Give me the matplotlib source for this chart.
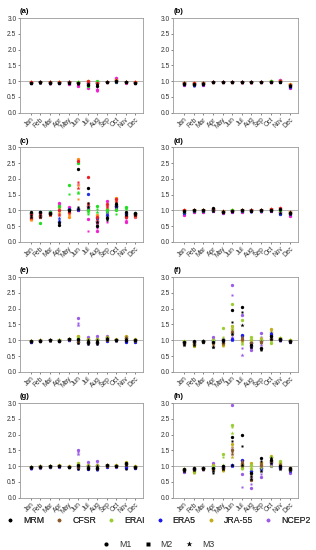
import numpy as np
import matplotlib.pyplot as plt
from matplotlib.lines import Line2D

plt.rcParams['font.family'] = ['Liberation Sans', 'DejaVu Sans']

months = ["Jan", "Feb", "Mar", "Apr", "May", "Jun", "Jul", "Aug", "Sep", "Oct", "Nov", "Dec"]
datasets = ["MRM", "CFSR", "ERAI", "ERA5", "JRA-55", "NCEP2"]
methods = ["M1", "M2", "M3"]

# colours used in panels (a)-(d) and (e)-(h)
colors_top = ["black", "#e8222a", "#22dd22", "#2233dd", "#ff8c1a", "#ee22cc"]
colors_bot = ["black", "#8b5a2b", "#9acd32", "#1a1aee", "#c2ad1c", "#9b5de5"]

# rows: MRM M1/M2/M3, CFSR M1/M2/M3, ERAI ..., ERA5 ..., JRA-55 ..., NCEP2 ...
panel_a = [
    [.94, .96, .95, .94, .95, .93, .88, .86, .97, 1.00, .96, .94],
    [.93, .95, .94, .93, .94, .92, .90, .88, .96, .99, .97, .93],
    [.95, .97, .96, .95, .96, .94, .92, .90, .98, 1.01, .97, .95],
    [.96, .98, .96, .96, .97, .95, 1.00, .95, .98, 1.02, .97, .96],
    [.95, .97, .95, .95, .96, .94, .98, .93, .97, 1.01, .96, .95],
    [.96, .98, .96, .97, .97, .95, .99, .94, .98, 1.03, .97, .96],
    [.95, .97, .95, .96, .96, .96, .86, 1.00, .98, 1.00, .98, .95],
    [.95, .96, .95, .95, .95, .95, .85, .98, .97, .99, .97, .95],
    [.96, .97, .96, .96, .96, .96, .87, .99, .98, 1.00, .98, .96],
    [.94, .96, .95, .95, .96, .95, .93, .94, .97, .97, .96, .94],
    [.94, .95, .94, .94, .95, .94, .92, .93, .96, .97, .96, .94],
    [.95, .96, .95, .95, .96, .95, .94, .95, .97, .98, .97, .95],
    [.96, .98, .97, .98, .98, .96, 1.02, .97, .99, 1.04, .97, .96],
    [.95, .97, .96, .97, .97, .95, 1.01, .96, .98, 1.03, .96, .95],
    [.96, .98, .97, .98, .98, .96, 1.02, .97, .99, 1.04, .97, .96],
    [.94, .99, .93, .95, .91, .86, .80, .72, .96, 1.10, .95, .95],
    [.93, .98, .92, .94, .90, .85, .82, .70, .96, 1.08, .95, .94],
    [.94, .99, .93, .95, .92, .87, .84, .74, .97, 1.09, .96, .95],
]

panel_b = [
    [.92, .90, .92, .98, .98, .97, .96, .97, .97, .99, .99, .86],
    [.91, .89, .91, .97, .97, .97, .96, .96, .96, .98, .98, .85],
    [.93, .91, .93, .98, .98, .98, .97, .97, .97, .99, .99, .87],
    [.94, .93, .93, .98, .98, .97, .96, .97, .97, .99, 1.01, .88],
    [.93, .92, .92, .97, .97, .96, .96, .96, .96, .98, 1.00, .87],
    [.94, .93, .93, .98, .98, .97, .97, .97, .97, .99, 1.01, .88],
    [.93, .92, .94, .98, .98, .97, .96, .97, .97, 1.00, 1.00, .89],
    [.92, .91, .93, .97, .97, .97, .96, .96, .96, .99, .99, .88],
    [.93, .92, .94, .98, .98, .98, .97, .97, .97, 1.00, 1.00, .89],
    [.90, .87, .90, .97, .98, .97, .96, .97, .97, .99, .98, .83],
    [.89, .86, .89, .97, .97, .96, .96, .96, .96, .98, .98, .82],
    [.90, .88, .90, .98, .98, .97, .97, .97, .97, .99, .99, .84],
    [.94, .94, .95, .99, .99, .98, .97, .98, .98, 1.00, 1.00, .92],
    [.93, .93, .94, .98, .98, .97, .96, .97, .97, .99, .99, .91],
    [.94, .94, .95, .99, .99, .98, .97, .98, .98, 1.00, 1.00, .92],
    [.89, .88, .88, .97, .97, .96, .96, .96, .96, .98, 1.03, .80],
    [.88, .87, .87, .97, .97, .96, .95, .95, .96, .98, 1.02, .79],
    [.89, .88, .88, .98, .98, .97, .96, .96, .97, .99, 1.03, .81],
]

panel_c = [
    [.95, .95, .93, .55, 1.00, 2.30, 1.72, .50, .75, 1.20, .95, .92],
    [.85, .85, .90, .60, .98, 1.10, 1.25, .55, .70, 1.25, .90, .88],
    [.78, .78, .88, .65, 1.02, 1.05, 1.10, .62, .80, 1.15, .85, .85],
    [.90, .92, .92, 1.00, .95, 2.58, 2.05, .80, 1.20, 1.35, .80, .90],
    [.80, .88, .88, .90, .92, 1.90, 1.25, .70, 1.10, 1.30, .82, .85],
    [.75, .82, .86, .85, .98, 1.70, 1.20, .65, 1.15, 1.28, .78, .82],
    [.92, .60, .95, 1.15, 1.80, 2.52, 1.00, 1.15, 1.00, 1.00, 1.10, .93],
    [.88, .90, .93, 1.05, 1.52, 1.60, .90, 1.05, .95, .90, 1.05, .90],
    [.85, .95, .90, 1.00, 1.00, 1.55, .95, .95, 1.05, 1.05, 1.08, .88],
    [.93, .94, .95, .65, 1.05, 1.05, 1.52, .75, .85, 1.15, .92, .92],
    [.90, .90, .96, .70, 1.00, 1.00, 1.15, .72, .90, 1.18, .88, .90],
    [.88, .88, .94, .75, 1.03, 1.02, 1.05, .68, .95, 1.12, .85, .88],
    [.72, .85, .90, 1.10, .80, 2.62, 1.15, .85, 1.05, 1.40, .82, .86],
    [.75, .80, .87, .95, .85, 1.35, 1.05, .78, 1.00, 1.38, .85, .83],
    [.70, .78, .85, .92, .88, 1.80, 1.00, .75, .98, 1.32, .80, .80],
    [.75, .80, .88, 1.25, 1.10, 1.00, .72, .35, 1.30, 1.10, .65, .80],
    [.80, .85, .90, 1.20, 1.05, 1.85, .35, .45, .65, 1.08, .70, .82],
    [.82, .83, .92, 1.18, 1.08, 1.02, 1.10, .60, .90, 1.12, .68, .85],
]

panel_d = [
    [.98, 1.00, 1.00, 1.08, .95, .98, 1.00, .98, 1.00, 1.02, 1.05, .93],
    [.95, .98, .98, 1.03, .96, .97, .98, .97, .99, 1.00, 1.00, .90],
    [.97, 1.01, 1.01, .99, .97, .99, 1.01, 1.00, 1.01, .98, .92, .95],
    [1.00, 1.02, 1.02, 1.05, .96, .99, 1.01, 1.00, 1.02, 1.04, 1.08, .92],
    [.99, 1.01, 1.01, 1.03, .95, .98, 1.00, .99, 1.01, 1.03, 1.06, .91],
    [1.00, 1.02, 1.02, 1.04, .96, .99, 1.01, 1.00, 1.02, 1.04, 1.07, .92],
    [.97, 1.00, 1.00, 1.02, .95, 1.00, 1.00, 1.00, 1.00, 1.01, 1.00, .93],
    [.96, .99, .99, 1.01, .94, .99, .99, .99, .99, 1.00, .99, .92],
    [.97, 1.00, 1.00, 1.02, .95, 1.00, 1.00, 1.00, 1.00, 1.01, 1.00, .93],
    [.93, .98, .98, 1.00, .94, .97, .98, .97, .99, 1.00, .90, .90],
    [.92, .97, .97, .99, .93, .96, .97, .96, .98, .99, .88, .88],
    [.93, .98, .98, 1.00, .94, .97, .98, .97, .99, 1.00, .90, .90],
    [1.02, 1.03, 1.03, 1.06, .98, 1.00, 1.02, .98, 1.03, 1.05, 1.03, .95],
    [1.01, 1.02, 1.02, 1.05, .97, .99, 1.01, .97, 1.02, 1.04, 1.02, .94],
    [1.02, 1.03, 1.03, 1.06, .98, 1.00, 1.02, .98, 1.03, 1.05, 1.03, .95],
    [.87, .96, .96, .99, .92, .95, .96, 1.02, .97, .98, .95, .84],
    [.85, .95, .95, .98, .91, .94, .95, 1.01, .96, .97, .94, .82],
    [.88, .96, .96, .99, .92, .95, .96, 1.02, .97, .98, .95, .85],
]

panel_e = [
    [.97, .99, 1.01, .99, 1.05, 1.05, .95, .95, 1.05, 1.01, 1.00, 1.02],
    [.95, .98, 1.00, .98, 1.03, .90, .88, .88, 1.00, 1.00, .97, .97],
    [.99, 1.00, 1.02, 1.00, 1.04, 1.00, 1.00, 1.02, 1.08, 1.02, 1.05, 1.00],
    [.98, .99, 1.00, .99, 1.03, .95, .92, .92, 1.02, 1.00, 1.08, 1.00],
    [.97, .98, .99, .98, 1.02, .92, .90, .90, 1.00, .99, 1.05, .98],
    [.98, .99, 1.00, .99, 1.03, 1.02, .95, .97, 1.05, 1.01, 1.10, 1.01],
    [.98, .99, 1.01, 1.00, 1.04, 1.08, 1.00, 1.00, 1.06, 1.01, 1.06, 1.01],
    [.97, .98, 1.00, .99, 1.03, .98, .95, .95, 1.03, 1.00, 1.03, .99],
    [.98, .99, 1.01, 1.00, 1.04, 1.10, 1.02, 1.03, 1.08, 1.02, 1.08, 1.02],
    [.96, .98, 1.00, .99, 1.02, .93, .90, .90, .99, 1.00, .96, .96],
    [.95, .97, .99, .98, 1.01, .90, .88, .88, .98, .99, .95, .95],
    [.96, .98, 1.00, .99, 1.02, .95, .92, .92, 1.00, 1.00, .97, .97],
    [.99, 1.00, 1.02, 1.00, 1.05, 1.15, 1.05, 1.05, 1.10, 1.03, 1.13, 1.03],
    [.98, .99, 1.01, .99, 1.04, 1.12, 1.03, 1.02, 1.08, 1.02, 1.12, 1.02],
    [.99, 1.00, 1.02, 1.00, 1.05, 1.10, 1.00, 1.00, 1.06, 1.02, 1.10, 1.01],
    [.96, .98, 1.00, .98, 1.02, 1.70, 1.10, 1.15, 1.12, 1.00, .98, .97],
    [.95, .97, .99, .98, 1.01, 1.55, 1.02, 1.08, 1.10, .99, .97, .96],
    [.96, .98, 1.00, .99, 1.02, 1.48, .98, 1.00, 1.05, 1.00, .98, .98],
]

panel_f = [
    [.95, .97, .98, .95, 1.00, 1.97, 2.07, .85, .75, 1.15, 1.05, .98],
    [.88, .90, .95, .80, .95, 1.58, 1.90, .80, .70, 1.10, 1.02, .95],
    [.85, .85, .93, .78, 1.02, 1.20, 1.48, .78, .72, 1.05, 1.00, .96],
    [.92, .92, .96, .90, .90, 1.25, 1.05, .90, .95, 1.05, 1.03, .97],
    [.90, .88, .95, .85, .88, 1.20, 1.00, .88, .90, 1.08, 1.01, .96],
    [.93, .95, .97, .92, .92, 1.30, 1.10, .92, .98, 1.12, 1.04, .98],
    [.98, .95, .98, 1.00, 1.38, 2.15, 1.65, 1.10, 1.00, .90, 1.08, 1.00],
    [.95, .90, .96, .95, 1.10, 1.45, .90, 1.05, .95, .95, 1.05, .99],
    [.92, .85, .94, .92, 1.05, 1.35, .88, 1.00, 1.05, 1.00, 1.06, 1.00],
    [.94, .96, .97, .97, .98, 1.05, 1.17, .90, .97, 1.20, 1.02, .97],
    [.93, .95, .96, .96, .96, 1.00, 1.10, .88, .95, 1.18, 1.01, .96],
    [.94, .96, .97, .97, .98, 1.02, 1.15, .90, .97, 1.22, 1.02, .97],
    [.96, .82, .99, 1.02, .85, 1.45, 1.00, 1.00, 1.05, 1.35, 1.07, 1.01],
    [.94, .84, .97, .98, .82, 1.40, .95, .95, 1.02, 1.30, 1.05, 1.00],
    [.97, .86, .99, 1.00, .87, 1.35, .98, .97, 1.08, 1.25, 1.06, 1.01],
    [.90, .93, .95, 1.10, 1.03, 2.75, 1.80, .70, 1.22, 1.15, 1.00, .94],
    [.88, .92, .94, 1.05, 1.00, 2.42, .75, .75, 1.10, 1.10, .99, .93],
    [.91, .94, .96, 1.00, .98, 1.10, .52, .80, .85, 1.05, 1.00, .95],
]

panel_g = [
    [.97, .99, 1.00, 1.01, .98, 1.05, .95, .95, 1.03, 1.01, 1.10, .97],
    [.95, .97, .99, 1.00, .97, .92, .92, .90, 1.00, 1.00, .92, .95],
    [.98, 1.00, 1.01, 1.02, .99, 1.00, 1.00, 1.00, 1.05, 1.02, 1.05, .99],
    [.98, .99, 1.00, 1.01, .98, .98, .95, .93, 1.01, 1.01, 1.06, .97],
    [.97, .98, .99, 1.00, .97, .95, .93, .92, 1.00, 1.00, 1.03, .96],
    [.98, .99, 1.00, 1.01, .98, 1.02, .97, .96, 1.02, 1.01, 1.08, .98],
    [.98, .99, 1.00, 1.02, .98, 1.08, 1.00, 1.00, 1.04, 1.02, 1.08, .98],
    [.97, .98, .99, 1.01, .97, 1.00, .97, .97, 1.02, 1.01, 1.05, .97],
    [.98, .99, 1.00, 1.02, .98, 1.10, 1.02, 1.02, 1.04, 1.02, 1.10, .99],
    [.95, .97, .98, 1.00, .97, .93, .92, .90, .99, 1.00, .95, .95],
    [.94, .96, .98, .99, .96, .91, .90, .88, .98, .99, .93, .94],
    [.95, .97, .99, 1.00, .97, .95, .93, .92, 1.00, 1.00, .96, .96],
    [.99, 1.00, 1.01, 1.03, 1.00, 1.10, 1.03, 1.03, 1.05, 1.04, 1.12, 1.00],
    [.98, .99, 1.00, 1.02, .99, 1.07, 1.01, 1.01, 1.04, 1.03, 1.10, .99],
    [.99, 1.00, 1.01, 1.03, 1.00, 1.05, 1.00, 1.00, 1.03, 1.03, 1.08, 1.00],
    [.93, .95, .97, .99, .96, 1.52, 1.12, 1.15, 1.00, .99, .97, .93],
    [.92, .95, .97, .99, .96, 1.45, 1.05, 1.08, .99, .99, .96, .93],
    [.94, .96, .98, 1.00, .97, 1.38, .98, 1.00, 1.00, 1.00, .97, .94],
]

panel_h = [
    [.90, .95, .95, .95, 1.00, 1.93, 1.98, .80, 1.27, 1.20, 1.00, .95],
    [.88, .90, .92, .80, .95, 1.80, 1.65, .70, 1.15, 1.10, .95, .90],
    [.85, .88, .90, .85, .90, 1.05, 1.05, .60, .85, 1.25, .92, .88],
    [.88, .92, .92, .90, .95, 1.50, 1.10, .55, 1.05, 1.15, 1.05, .90],
    [.86, .88, .90, .88, .92, 1.45, 1.00, .65, 1.00, 1.10, 1.00, .88],
    [.90, .93, .93, .92, .97, 1.40, 1.15, .75, 1.10, 1.18, 1.08, .92],
    [.92, .90, .94, 1.00, 1.40, 2.30, .95, 1.05, 1.00, 1.28, 1.15, .92],
    [.90, .85, .92, .95, 1.30, 2.25, .90, .95, .95, 1.22, 1.10, .90],
    [.88, .82, .90, .92, 1.05, 2.05, 1.00, .90, 1.05, 1.00, 1.08, .88],
    [.88, .92, .93, .95, .98, 1.05, 1.20, .85, .95, 1.12, .98, .87],
    [.86, .90, .92, .93, .96, 1.00, 1.15, .80, .90, 1.15, .96, .85],
    [.88, .92, .93, .95, .98, 1.02, 1.18, .82, .92, 1.10, .97, .86],
    [.92, .82, .95, 1.05, .88, 1.70, 1.05, 1.10, 1.10, 1.32, 1.12, .93],
    [.90, .80, .93, 1.00, .85, 1.62, .98, 1.00, 1.05, 1.30, 1.10, .92],
    [.91, .85, .94, .98, .90, 1.28, 1.00, .95, 1.12, 1.25, 1.05, .93],
    [.83, .88, .90, 1.10, 1.02, 2.95, .75, .30, .65, 1.00, .95, .80],
    [.82, .87, .89, 1.05, 1.00, 1.60, .35, .45, .75, 1.05, .93, .82],
    [.85, .90, .91, 1.00, .98, 1.55, 1.00, .65, .95, 1.08, .96, .84],
]

panels = [("(a)", panel_a), ("(b)", panel_b), ("(c)", panel_c), ("(d)", panel_d),
          ("(e)", panel_e), ("(f)", panel_f), ("(g)", panel_g), ("(h)", panel_h)]

markers = {"M1": ("o", 2.4), "M2": ("s", 2.1), "M3": ("*", 3.2)}

# ============================================================================
# figure
# ============================================================================

fig = plt.figure(figsize=(3.16, 5.5), dpi=100)

lefts = [0.063, 0.548]
widths = [0.390, 0.395]
bottoms = [0.795, 0.560, 0.324, 0.095]
height = 0.172

x = np.arange(1, 13)

for i, (label, data) in enumerate(panels):
    row, col = divmod(i, 2)
    ax = fig.add_axes([lefts[col], bottoms[row], widths[col], height])
    colors = colors_top if row < 2 else colors_bot

    ax.axhline(1.0, color="#a8a8a8", lw=0.6, zorder=1)

    # plot NCEP2 first so MRM ends up on top
    for d in reversed(range(len(datasets))):
        for m, meth in enumerate(methods):
            mk, ms = markers[meth]
            vals = data[d * 3 + m]
            ax.plot(x, vals, linestyle="none", marker=mk, ms=ms,
                    color=colors[d], mec="none", zorder=2)

    ax.set_xlim(-0.15, 12.85)
    ax.set_ylim(0, 3.0)
    ax.set_yticks(np.arange(0, 3.01, 0.5))
    ax.set_yticklabels(["%.1f" % v for v in np.arange(0, 3.01, 0.5)])
    ax.set_xticks(x)
    ax.set_xticklabels(months, rotation=45, ha="right", rotation_mode="anchor")
    ax.tick_params(axis="both", labelsize=4.8, length=1.5, width=0.5,
                   pad=1, colors="#555555", labelcolor="#333333")
    for sp in ax.spines.values():
        sp.set_color("#999999")
        sp.set_linewidth(0.6)
    ax.text(0.0, 1.03, label, transform=ax.transAxes, ha="left", va="bottom",
            fontsize=5.5, fontweight="bold")

# legends
h1 = [Line2D([], [], linestyle="none", marker="o", ms=2.6, color=c, mec="none",
             label=n) for n, c in zip(datasets, colors_bot)]
leg1 = fig.legend(handles=h1, loc="center", bbox_to_anchor=(0.5, 0.054), ncol=6,
                  frameon=False, fontsize=6.3, handlelength=1.0, labelcolor="#333333",
                  handletextpad=1.0, columnspacing=1.2, borderpad=0)
fig.add_artist(leg1)

h2 = [Line2D([], [], linestyle="none", marker=markers[m][0], ms=markers[m][1] + 0.6,
             color="black", mec="none", label=m) for m in methods]
fig.legend(handles=h2, loc="center", bbox_to_anchor=(0.5, 0.010), ncol=3,
           frameon=False, fontsize=6.3, handlelength=1.0, labelcolor="#333333",
           handletextpad=1.0, columnspacing=1.3, borderpad=0)

fig.savefig("out.png", dpi=100)
